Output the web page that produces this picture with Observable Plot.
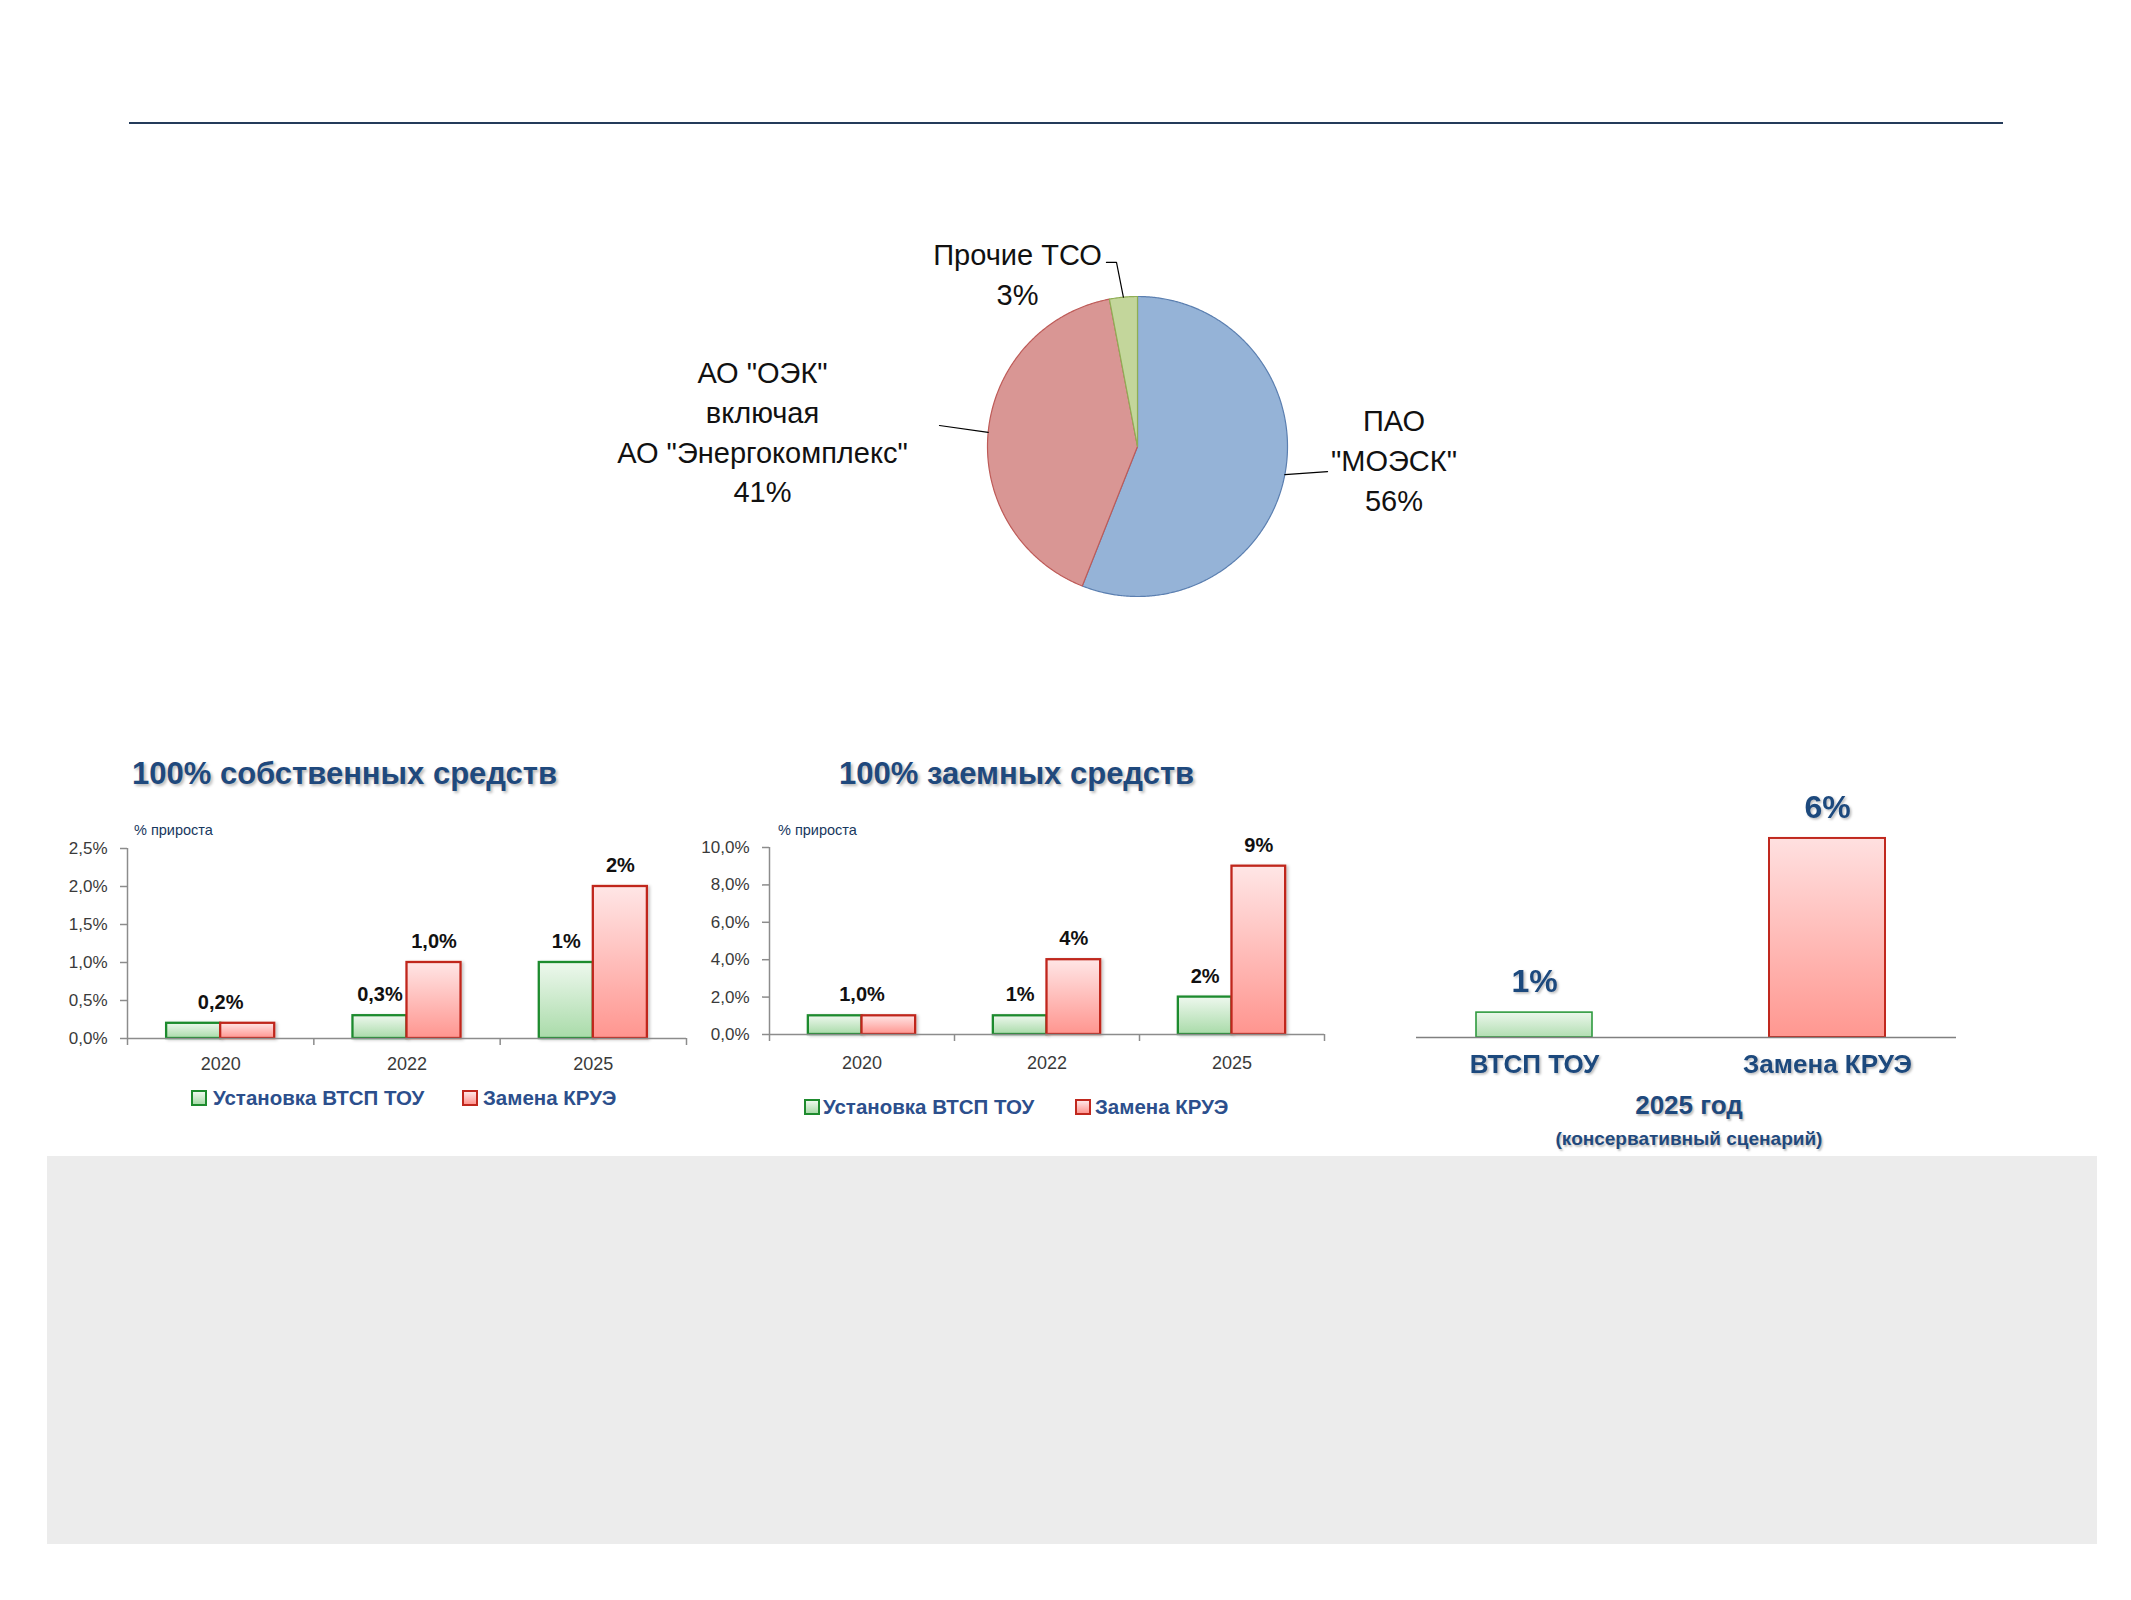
<!DOCTYPE html>
<html><head><meta charset="utf-8">
<script src="https://cdn.jsdelivr.net/npm/d3@7"></script>
<script src="https://cdn.jsdelivr.net/npm/@observablehq/plot@0.6"></script>
<style>
body{margin:0;background:#fff;}
#page{position:relative;width:2131px;height:1600px;overflow:hidden;font-family:"Liberation Sans",Arial,sans-serif;}
.abs{position:absolute;white-space:nowrap;line-height:1;}
.title{font-weight:bold;font-size:31px;color:#1F497D;text-shadow:2px 2px 3px rgba(0,0,0,0.28);}
.small{font-size:14.5px;color:#17375E;}
.leg{font-weight:bold;font-size:20.5px;color:#2C4F8C;}
.sw{width:12px;height:12px;border:2.5px solid;}
.sw.g{border-color:#1E8B2E;background:linear-gradient(#EEF8EE,#A9DBA9);}
.sw.r{border-color:#C0281E;background:linear-gradient(#FFE6E6,#FF958F);}
.rt{font-weight:bold;color:#1F497D;text-shadow:1.5px 1.5px 2px rgba(0,0,0,0.25);text-align:center;}
</style></head><body><div id="page"></div>
<script>
// ---------------- data ----------------
const pieNames = ['ПАО\n"МОЭСК"', 'АО "ОЭК"\nвключая\nАО "Энергокомплекс"', 'Прочие ТСО'];
const pieShares = [56, 41, 3];

const years = ["2020", "2022", "2025"];
const seriesNames = ["Установка ВТСП ТОУ", "Замена КРУЭ"];

const ownTou = [0.2, 0.3, 1.0];
const ownKrue = [0.2, 1.0, 2.0];
const ownTouLabels = ["0,2%", "0,3%", "1%"];
const ownKrueLabels = ["", "1,0%", "2%"];
const ownTicks = [0, 0.5, 1, 1.5, 2, 2.5];

const loanTou = [1.0, 1.0, 2.0];
const loanKrue = [1.0, 4.0, 9.0];
const loanTouLabels = ["1,0%", "1%", "2%"];
const loanKrueLabels = ["", "4%", "9%"];
const loanTicks = [0, 2, 4, 6, 8, 10];

const scenCats = ["ВТСП ТОУ", "Замена КРУЭ"];
const scenValues = [0.75, 6.0];

// ---------------- helpers ----------------
const page = document.getElementById("page");
function place(el, left, top) {
  const d = document.createElement("div");
  d.className = "abs";
  d.style.left = left + "px"; d.style.top = top + "px";
  d.appendChild(el); page.appendChild(d); return d;
}
function html(cls, text, left, top, extra) {
  const d = document.createElement("div");
  d.className = "abs " + cls; d.textContent = text;
  d.style.left = left + "px"; d.style.top = top + "px";
  if (extra) Object.assign(d.style, extra);
  page.appendChild(d); return d;
}
const NS = "http://www.w3.org/2000/svg";
function getDefs(svg) {
  let defs = svg.querySelector("defs");
  if (!defs) { defs = document.createElementNS(NS, "defs"); svg.insertBefore(defs, svg.firstChild); }
  return defs;
}
function addGrad(svg, id, c0, c1) {
  const g = document.createElementNS(NS, "linearGradient");
  g.setAttribute("id", id); g.setAttribute("x1", 0); g.setAttribute("y1", 0); g.setAttribute("x2", 0); g.setAttribute("y2", 1);
  [[0, c0], [1, c1]].forEach(([o, c]) => {
    const s = document.createElementNS(NS, "stop");
    s.setAttribute("offset", o); s.setAttribute("stop-color", c); g.appendChild(s);
  });
  getDefs(svg).appendChild(g);
}
function addShadow(svg, id, dx, dy, sd, op) {
  const f = document.createElementNS(NS, "filter");
  f.setAttribute("id", id); f.setAttribute("x", "-20%"); f.setAttribute("y", "-20%"); f.setAttribute("width", "150%"); f.setAttribute("height", "150%");
  const ds = document.createElementNS(NS, "feDropShadow");
  ds.setAttribute("dx", dx); ds.setAttribute("dy", dy); ds.setAttribute("stdDeviation", sd);
  ds.setAttribute("flood-color", "#000"); ds.setAttribute("flood-opacity", op);
  f.appendChild(ds); getDefs(svg).appendChild(f);
}

// ---------------- decorations ----------------
const rule = document.createElement("div");
Object.assign(rule.style, {position: "absolute", left: "129px", top: "121.5px", width: "1874px", height: "2.5px", background: "#243B5A"});
page.appendChild(rule);
const grey = document.createElement("div");
Object.assign(grey.style, {position: "absolute", left: "47px", top: "1156px", width: "2050px", height: "388px", background: "#ECECEC"});
page.appendChild(grey);

// ---------------- pie ----------------
{
  const R = 150, W = 1000, H = 500;
  const total = d3.sum(pieShares);
  let acc = 0;
  const slices = pieShares.map((v, i) => {
    const a0 = acc / total * 2 * Math.PI; acc += v;
    const a1 = acc / total * 2 * Math.PI;
    return {i, name: pieNames[i], share: v, a0, a1, mid: (a0 + a1) / 2};
  });
  const polys = slices.map(s => {
    const pts = [{x: 0, y: 0}];
    const n = Math.max(2, Math.ceil((s.a1 - s.a0) / (Math.PI / 360)));
    for (let k = 0; k <= n; k++) {
      const a = s.a0 + (s.a1 - s.a0) * k / n;
      pts.push({x: Math.sin(a), y: Math.cos(a)});
    }
    return pts;
  });
  const pieFill = ["#95B3D7", "#D99694", "#C3D69B"];
  const pieStroke = ["#5B7FB0", "#BE5B58", "#8FAE55"];
  // label layout (in radius units)
  const labelPos = [{x: 1.71, y: -0.08}, {x: -2.5, y: 0.11}, {x: -0.80, y: 1.163}];
  const leaderBends = [[{x: 1.267, y: -0.167}], [{x: -1.32, y: 0.14}], [{x: -0.14, y: 1.227}, {x: -0.207, y: 1.227}]];
  const leaders = slices.map(s => [{x: Math.sin(s.mid), y: Math.cos(s.mid)}, ...leaderBends[s.i]]);
  const svg = Plot.plot({
    width: W, height: H, margin: 0,
    style: {background: "transparent", fontFamily: "Liberation Sans, Arial, sans-serif", overflow: "visible"},
    x: {domain: [-W / 2 / R, W / 2 / R], axis: null},
    y: {domain: [-H / 2 / R, H / 2 / R], axis: null},
    marks: [
      ...polys.map((p, i) => Plot.line(p, {x: "x", y: "y", curve: "linear-closed", fill: pieFill[i], stroke: pieStroke[i], strokeWidth: 1.2})),
      ...leaders.map(l => Plot.line(l, {x: "x", y: "y", stroke: "#000", strokeWidth: 1.2})),
      Plot.text(slices, {x: d => labelPos[d.i].x, y: d => labelPos[d.i].y, text: d => d.name + "\n" + d.share + "%",
        fontSize: 29, lineHeight: 1.37, lineAnchor: "middle", textAnchor: "middle", fill: "#111"})
    ]
  });
  place(svg, 1137 - W / 2, 446 - H / 2);
}

// ---------------- bar charts ----------------
const BW = 0.29;
const fmtTick = d => d3.format(".1f")(d).replace(".", ",") + "%";
function barChart(o) {
  const data = years.map((y, i) => ({i, year: y, tou: o.tou[i], krue: o.krue[i]}));
  const labels = [];
  data.forEach(d => {
    if (o.krueLabels[d.i] === "") labels.push({x: d.i + 0.5, y: Math.max(d.tou, d.krue), t: o.touLabels[d.i]});
    else {
      labels.push({x: d.i + 0.5 - BW / 2, y: d.tou, t: o.touLabels[d.i]});
      labels.push({x: d.i + 0.5 + BW / 2, y: d.krue, t: o.krueLabels[d.i]});
    }
  });
  const svg = Plot.plot({
    width: o.width, height: o.height,
    marginLeft: o.ml, marginRight: o.mr, marginTop: o.mt, marginBottom: o.mb,
    style: {background: "transparent", fontFamily: "Liberation Sans, Arial, sans-serif", overflow: "visible"},
    x: {type: "linear", domain: [0, 3]},
    y: {domain: [0, o.ymax]},
    marks: [
      Plot.rect(data, {x1: d => d.i + 0.5 - BW, x2: d => d.i + 0.5, y1: 0, y2: "tou", fill: `url(#${o.id}-g)`, stroke: "#1E8B2E", strokeWidth: 2.3}),
      Plot.rect(data, {x1: d => d.i + 0.5, x2: d => d.i + 0.5 + BW, y1: 0, y2: "krue", fill: `url(#${o.id}-r)`, stroke: "#C0281E", strokeWidth: 2.3}),
      Plot.ruleX([0], {y1: 0, y2: o.ymax, stroke: "#8C8C8C", strokeWidth: 1.5}),
      Plot.ruleY([0], {x1: 0, x2: 3, stroke: "#8C8C8C", strokeWidth: 1.5}),
      Plot.axisY(o.ticks, {tickSize: 7, tickPadding: 13, tickFormat: fmtTick, fontSize: 17, fill: "#3A3A3A", stroke: "#8C8C8C", strokeWidth: 1.5, label: null}),
      Plot.axisX([0, 1, 2, 3], {tickSize: 7, tickFormat: () => "", stroke: "#8C8C8C", strokeWidth: 1.5, label: null}),
      Plot.axisX([0.5, 1.5, 2.5], {tickSize: 0, tickPadding: o.xpad, tickFormat: d => years[Math.floor(d)], fontSize: 18, fill: "#3A3A3A", label: null}),
      Plot.text(labels, {x: "x", y: "y", text: "t", dy: -21, lineAnchor: "middle", fontSize: 20, fontWeight: "bold", fill: "#111"})
    ]
  });
  addGrad(svg, o.id + "-g", "#EEF8EE", "#A9DBA9");
  addGrad(svg, o.id + "-r", "#FFE6E6", "#FF958F");
  addShadow(svg, o.id + "-sh", 2, 1, 1.5, 0.22);
  svg.querySelectorAll('g[aria-label="rect"] rect').forEach(r => r.setAttribute("filter", `url(#${o.id}-sh)`));
  place(svg, o.left, o.top);
}

barChart({id: "own", tou: ownTou, krue: ownKrue, touLabels: ownTouLabels, krueLabels: ownKrueLabels, ticks: ownTicks, ymax: 2.5,
  left: 0, top: 800, width: 720, height: 288, ml: 127, mr: 34, mt: 48, mb: 50, xpad: 18.5});
barChart({id: "loan", tou: loanTou, krue: loanKrue, touLabels: loanTouLabels, krueLabels: loanKrueLabels, ticks: loanTicks, ymax: 10,
  left: 700, top: 800, width: 654, height: 284, ml: 69, mr: 30, mt: 47, mb: 50, xpad: 21.5});

// titles and legends
html("title", "100% собственных средств", 132, 758);
html("title", "100% заемных средств", 839, 758);
html("small", "% прироста", 134, 823);
html("small", "% прироста", 778, 823);
function legend(y, xs) {
  const sg = document.createElement("div"); sg.className = "abs sw g"; sg.style.left = xs[0] + "px"; sg.style.top = (y - 8.5) + "px"; page.appendChild(sg);
  html("leg", seriesNames[0], xs[1], y - 10);
  const sr = document.createElement("div"); sr.className = "abs sw r"; sr.style.left = xs[2] + "px"; sr.style.top = (y - 8.5) + "px"; page.appendChild(sr);
  html("leg", seriesNames[1], xs[3], y - 10);
}
legend(1098, [191, 213, 462, 483]);
legend(1107, [804, 823, 1075, 1095]);

// ---------------- 2025 scenario ----------------
{
  const data = scenCats.map((c, i) => ({c, v: scenValues[i]}));
  const baseH = 277;
  const svg = Plot.plot({
    width: 545, height: baseH + 60, marginLeft: 5, marginRight: 0, marginTop: 0, marginBottom: 60,
    style: {background: "transparent", fontFamily: "Liberation Sans, Arial, sans-serif", overflow: "visible"},
    x: {type: "band", domain: scenCats, range: [0, 540], paddingInner: 0.604, paddingOuter: 0.2235},
    y: {domain: [0, 8.35], axis: null},
    marks: [
      Plot.barY(data.filter(d => d.c === scenCats[0]), {x: "c", y: "v", fill: "url(#sc-g)", stroke: "#2E9A3E", strokeWidth: 1.6}),
      Plot.barY(data.filter(d => d.c === scenCats[1]), {x: "c", y: "v", fill: "url(#sc-r)", stroke: "#C0281E", strokeWidth: 2}),
      Plot.ruleY([0], {stroke: "#808080", strokeWidth: 1.5}),
      Plot.axisX({tickSize: 0, tickPadding: 17, fontSize: 26, fontWeight: "bold", fill: "#1F497D", label: null}),
      Plot.text(data, {x: "c", y: "v", text: d => Math.round(d.v) + "%", dy: -31, lineAnchor: "middle", fontSize: 32, fontWeight: "bold", fill: "#1F497D"})
    ]
  });
  addGrad(svg, "sc-g", "#ECF7EC", "#B2DEB2");
  addGrad(svg, "sc-r", "#FFE0E0", "#FF9790");
  addShadow(svg, "sc-sh", 1.5, 1.5, 1, 0.28);
  svg.querySelectorAll("text").forEach(t => t.setAttribute("filter", "url(#sc-sh)"));
  place(svg, 1411, 760);
  html("rt", "2025 год", 1489, 1092, {width: "400px", fontSize: "26px"});
  html("rt", "(консервативный сценарий)", 1489, 1129, {width: "400px", fontSize: "19px"});
}
</script></body></html>
